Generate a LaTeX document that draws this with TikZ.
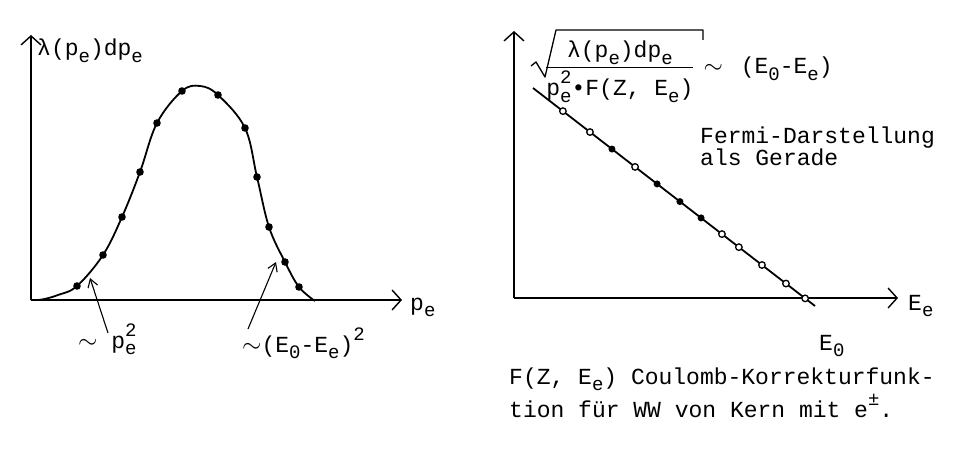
\documentclass[tikz,border=0pt]{standalone}
\usepackage{amsmath}
\usepackage{fontspec}
\setmainfont{Liberation Mono}
\usetikzlibrary{arrows.meta}

\newcommand{\subtt}[1]{\raisebox{-0.3em}{\fontsize{19}{19}\selectfont #1}}
\newcommand{\suptt}[1]{\raisebox{0.5em}{\fontsize{19}{19}\selectfont #1}}
\newcommand{\subsuptt}[2]{\rlap{\suptt{#2}}\subtt{#1}}

\tikzset{
  axis/.style={line width=1.3pt,-{Straight Barb[length=9pt,width=20pt,line width=1.4pt]}},
  curve/.style={line width=1.8pt},
  pointer/.style={line width=1.1pt,-{Straight Barb[length=8pt,width=10pt,line width=1.1pt]}},
  lbl/.style={font=\fontsize{23}{22}\selectfont,inner sep=0pt,anchor=base west},
}

\begin{document}
\begin{tikzpicture}[x=1pt,y=-1pt]
  \useasboundingbox (0,0) rectangle (956,452);
  % left plot: spectrum
  \coordinate (O1) at (31,300);
  \coordinate (Y1) at (31,35);
  \coordinate (X1) at (402,300);
  \draw[axis] (O1) -- (Y1);
  \draw[axis] (O1) -- (X1);
  \node[lbl] (ylab1) at (37,56) {λ(p\subtt{e})dp\subtt{e}};
  \node[lbl] (xlab1) at (410,310) {p\subtt{e}};
  \draw[curve] plot[smooth,tension=0.6] coordinates {
    (31,300) (42,299.5) (58,295) (77,286) (103,255) (122,217)
    (140,172) (157,123) (182,91) (200,86) (218,95) (245,128)
    (257,177) (269,227) (285,262) (299,287) (315,301)};
  \foreach \x/\y in {77/286,103/255,122/217,140/172,157/123,182/91,
                     218/95,245/128,257/177,269/227,285/262,299/287}
    \fill (\x,\y) circle (3.8);
  \node[lbl] (lowlab) at (78,348) {$\sim$ p\subsuptt{e}{2}};
  \node[lbl] (highlab) at (242,352) {$\sim$(E\subtt{0}-E\subtt{e})\suptt{2}};
  \coordinate (lowtail) at (108,333);
  \coordinate (lowtip) at (90,278);
  \coordinate (hightail) at (248,329);
  \coordinate (hightip) at (276,262);
  \draw[pointer] (lowtail) -- (lowtip);
  \draw[pointer] (hightail) -- (hightip);

  % right plot: Fermi representation
  \coordinate (O2) at (514,298);
  \coordinate (Y2) at (514,31);
  \coordinate (X2) at (898,298);
  \draw[axis] (O2) -- (Y2);
  \draw[axis] (O2) -- (X2);
  \node[lbl] (xlab2) at (908,310) {E\subtt{e}};
  \node[lbl] (fermi) at (545,74)
    {$\dfrac{\text{λ(p\subtt{e})dp\subtt{e}}}
            {\text{p\subsuptt{e}{2}•F(Z, E\subtt{e})}}$\hspace{9pt}$\sim$\hspace{4pt} (E\subtt{0}-E\subtt{e})};
  \draw[line width=1.3pt,line join=round]
    (531,66) -- (536,62) -- (545,77) -- (556,30) -- (703,30) -- (703,40);
  \coordinate (L1) at (533,88);
  \coordinate (L2) at (815,306);
  \draw[curve] (L1) -- (L2);
  \foreach \p in {0.106,0.202,0.362,0.670,0.730,0.812,0.897,0.965}
    \path (L1) -- (L2) node[pos=\p,circle,draw,line width=1.3pt,fill=white,
      inner sep=0pt,minimum size=6.5pt] {};
  \foreach \p in {0.280,0.440,0.521,0.596}
    \path (L1) -- (L2) node[pos=\p,circle,fill,inner sep=0pt,minimum size=7pt] {};
  \node[lbl] (e0) at (819,350) {E\subtt{0}};
  \node[lbl,align=left] (txt) at (700,165) {Fermi-Darstellung\\als Gerade};
  \node[lbl] (cap1) at (509,384) {F(Z, E\subtt{e}) Coulomb-Korrekturfunk-};
  \node[lbl] (cap2) at (509,417) {tion für WW von Kern mit e\suptt{±}.};
\end{tikzpicture}
\end{document}
